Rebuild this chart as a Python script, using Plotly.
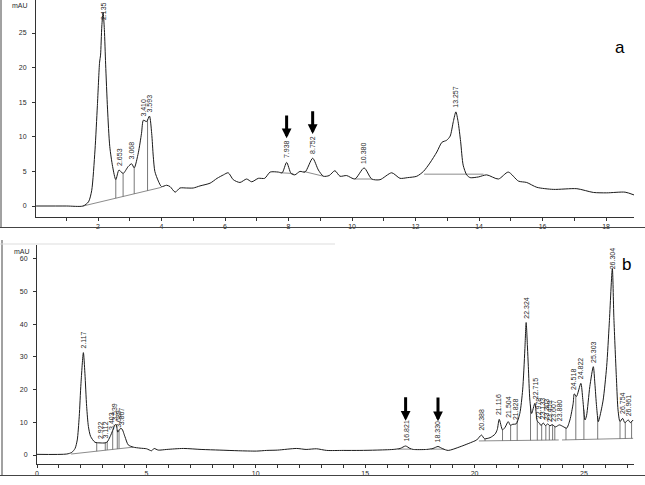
import numpy as np
import plotly.graph_objects as go

# ---------------- Panel a data ----------------
a_time = [0.05, 1.0, 1.53, 1.70, 1.80, 1.905, 1.98, 2.05, 2.08, 2.12, 2.16, 2.20, 2.24, 2.30, 2.37,
          2.46, 2.56, 2.66, 2.79, 2.95, 3.06, 3.14, 3.27, 3.37, 3.43, 3.53, 3.62, 3.69, 3.74, 3.79,
          3.90, 4.00, 4.16, 4.27, 4.43, 4.58, 4.79, 5.0, 5.21, 5.53, 5.75, 5.95, 6.10, 6.26, 6.47,
          6.68, 6.84, 7.05, 7.25, 7.42, 7.68, 7.80, 7.94, 8.08, 8.20, 8.36, 8.52, 8.76, 8.94, 9.10,
          9.28, 9.46, 9.62, 9.83, 10.09, 10.38, 10.62, 10.88, 11.25, 11.51, 11.75, 12.04, 12.25,
          12.45, 12.67, 12.83, 12.98, 13.09, 13.19, 13.27, 13.34, 13.42, 13.50, 13.61, 13.72, 13.98,
          14.24, 14.61, 14.92, 15.24, 15.50, 15.82, 16.34, 17.08, 17.60, 18.02, 18.60, 18.88]
a_mau = [0, 0, 0, 0.6, 2.2, 8.1, 14.5, 20.8, 21.8, 26.0, 28.0, 25.5, 20.5, 14.0, 8.6,
         5.7, 3.8, 5.2, 4.7, 5.7, 6.1, 5.5, 7.7, 10.5, 12.4, 12.2, 13.0, 10.5, 7.2, 5.0,
         3.6, 2.8, 3.0, 2.8, 2.0, 2.6, 2.6, 2.6, 2.9, 3.3, 4.0, 4.5, 4.8, 3.8, 3.4,
         3.9, 3.5, 4.0, 4.0, 4.9, 4.9, 4.8, 6.3, 4.7, 4.5, 5.0, 4.9, 6.9, 5.2, 4.3,
         4.4, 5.1, 4.3, 4.4, 3.9, 5.5, 3.9, 3.8, 4.8, 4.0, 4.1, 4.3, 5.0,
         6.2, 7.8, 9.2, 9.5, 10.1, 12.2, 13.6, 12.2, 9.3, 5.9, 4.5, 4.1, 4.2,
         4.5, 3.9, 4.9, 3.6, 3.4, 2.7, 2.4, 2.5, 1.96, 1.9, 2.0, 1.6]
a_peak_labels = ["2.135", "2.653", "3.068", "3.410", "3.593", "7.938", "8.752", "10.380", "13.257"]
a_peak_times = [2.16, 2.66, 3.06, 3.43, 3.62, 7.94, 8.76, 10.38, 13.27]
a_drop_times = [2.56, 2.79, 3.14, 3.56]
a_base_start_t = [1.53, 7.75, 8.47, 10.09, 12.27]
a_base_start_v = [0.0, 4.8, 5.0, 3.9, 4.6]
a_base_end_t = [4.0, 8.15, 9.10, 10.62, 14.14]
a_base_end_v = [2.7, 4.7, 4.3, 3.9, 4.6]
a_arrow_times = [7.94, 8.76]
a_xtick_labels = ["2", "4", "6", "8", "10", "12", "14", "16", "18"]
a_ytick_labels = ["0", "5", "10", "15", "20", "25"]

# ---------------- Panel b data ----------------
b_time = [0.0, 1.36, 1.59, 1.74, 1.84, 1.93, 2.01, 2.12, 2.19, 2.27, 2.35, 2.45, 2.65, 2.88, 3.11,
          3.21, 3.34, 3.46, 3.56, 3.62, 3.69, 3.79, 3.88, 4.02, 4.17, 4.40, 4.71, 5.01, 5.24, 5.35,
          5.54, 5.93, 6.69, 7.5, 8.36, 9.2, 10.04, 10.5, 11.0, 11.87, 12.3, 12.78, 13.24, 14.0,
          14.76, 15.5, 16.28, 16.6, 16.85, 17.05, 17.2, 17.81, 18.1, 18.33, 18.55, 18.8, 19.33,
          19.94, 20.1, 20.32, 20.45, 20.71, 20.94, 21.04, 21.13, 21.28, 21.40, 21.54, 21.64, 21.75,
          21.90, 22.07, 22.20, 22.30, 22.36, 22.42, 22.46, 22.53, 22.61, 22.76, 22.87, 22.96, 23.04,
          23.14, 23.24, 23.35, 23.45, 23.55, 23.70, 23.88, 24.05, 24.21, 24.36, 24.51, 24.56, 24.66,
          24.86, 24.95, 25.05, 25.12, 25.27, 25.43, 25.50, 25.58, 25.66, 25.73, 25.88, 26.04, 26.16,
          26.30, 26.37, 26.49, 26.56, 26.65, 26.77, 26.87, 27.03, 27.12, 27.25]
b_mau = [0.2, 0.3, 0.8, 2.0, 4.6, 11.7, 21.9, 31.3, 25.0, 14.8, 8.7, 5.7, 3.9, 3.7, 3.7,
         4.0, 5.6, 7.5, 9.2, 9.3, 7.0, 8.0, 8.0, 5.6, 3.1, 2.4, 2.1, 1.9, 1.3, 2.0,
         1.5, 1.7, 2.0, 1.7, 1.5, 1.3, 1.2, 1.4, 1.5, 2.0, 1.7, 1.9, 1.4, 1.4,
         1.4, 1.5, 1.7, 2.0, 2.75, 2.0, 1.7, 1.7, 2.0, 2.6, 1.9, 1.4, 2.5,
         4.1, 4.6, 6.1, 5.0, 5.3, 6.4, 7.8, 10.9, 7.7, 8.5, 10.2, 9.1, 9.4,
         9.5, 12.7, 19.9, 32.1, 40.5, 33.0, 27.0, 16.8, 12.7, 15.8, 10.3, 9.8, 9.0,
         9.8, 9.0, 9.5, 8.9, 9.3, 8.6, 9.2, 8.7, 8.2, 10.7, 15.8, 18.7, 17.9,
         21.9, 17.0, 10.7, 12.0, 20.9, 27.0, 22.0, 14.8, 10.2, 11.8, 16.8, 27.0, 40.3,
         57.0, 42.0, 22.9, 13.8, 10.2, 11.2, 9.9, 10.7, 9.9, 10.7]
b_peak_labels = ["2.117", "2.922", "3.112", "3.403", "3.539", "3.689", "3.867", "16.821", "18.330",
                 "20.388", "21.116", "21.504", "21.828", "22.324", "22.715", "22.978", "23.133",
                 "23.303", "23.459", "23.607", "23.880", "24.518", "24.822", "25.303", "26.304",
                 "26.754", "26.961"]
b_peak_times = [2.12, 2.93, 3.11, 3.40, 3.56, 3.69, 3.86, 16.85, 18.33,
                20.32, 21.13, 21.54, 21.90, 22.36, 22.76, 22.96, 23.14,
                23.30, 23.45, 23.60, 23.87, 24.56, 24.86, 25.43, 26.30,
                26.77, 27.03]
b_drop_times = [2.73, 3.12, 3.21, 3.46, 3.67, 3.75,
                20.48, 21.28, 21.65, 21.95, 22.56, 22.87, 23.07, 23.26, 23.42, 23.57, 23.67,
                24.18, 24.63, 25.0, 25.63, 26.65, 26.89, 27.18]
b_base_start_t = [1.56, 16.5, 18.0, 20.2, 24.0]
b_base_start_v = [0.3, 1.8, 1.8, 4.3, 4.6]
b_base_end_t = [4.4, 17.1, 18.6, 23.85, 27.25]
b_base_end_v = [2.4, 1.8, 1.8, 4.6, 5.1]
b_arrow_times = [16.85, 18.33]
b_xtick_labels = ["0", "5", "10", "15", "20", "25"]
b_ytick_labels = ["0", "10", "20", "30", "40", "50", "60"]

LINE = "#1a1a1a"
BASE = "#8c8c8c"
TXT = "#2a2a2a"
FONT = "Liberation Sans, Arial, sans-serif"

A_YRANGE = [-1.59, 29.77]
B_YRANGE = [-2.75, 64.2]


def baseline_at(t, s_t, s_v, e_t, e_v):
    for t0, v0, t1, v1 in zip(s_t, s_v, e_t, e_v):
        if t0 <= t <= t1:
            return v0 + (v1 - v0) * (t - t0) / (t1 - t0)
    return None


fig = go.Figure()

panels = [
    dict(time=a_time, mau=a_mau, labels=a_peak_labels, ptimes=a_peak_times, drops=a_drop_times,
         bst=a_base_start_t, bsv=a_base_start_v, bet=a_base_end_t, bev=a_base_end_v,
         arrows=a_arrow_times, xa="x", ya="y", yr=A_YRANGE, px_per_unit=217 / (A_YRANGE[1] - A_YRANGE[0]),
         arrow_gap=3.5),
    dict(time=b_time, mau=b_mau, labels=b_peak_labels, ptimes=b_peak_times, drops=b_drop_times,
         bst=b_base_start_t, bsv=b_base_start_v, bet=b_base_end_t, bev=b_base_end_v,
         arrows=b_arrow_times, xa="x2", ya="y2", yr=B_YRANGE, px_per_unit=219 / (B_YRANGE[1] - B_YRANGE[0]),
         arrow_gap=7.7),
]

annotations = []
for p in panels:
    # baselines
    bx, by = [], []
    for t0, v0, t1, v1 in zip(p["bst"], p["bsv"], p["bet"], p["bev"]):
        bx += [t0, t1, None]
        by += [v0, v1, None]
    fig.add_trace(go.Scatter(x=bx, y=by, mode="lines", xaxis=p["xa"], yaxis=p["ya"],
                             line=dict(color=BASE, width=1), hoverinfo="skip", showlegend=False))
    # drop lines
    dx, dy = [], []
    for t in p["drops"]:
        b = baseline_at(t, p["bst"], p["bsv"], p["bet"], p["bev"])
        c = float(np.interp(t, p["time"], p["mau"]))
        dx += [t, t, None]
        dy += [b, c, None]
    fig.add_trace(go.Scatter(x=dx, y=dy, mode="lines", xaxis=p["xa"], yaxis=p["ya"],
                             line=dict(color="#555555", width=0.8), hoverinfo="skip", showlegend=False))
    # signal
    fig.add_trace(go.Scatter(x=p["time"], y=p["mau"], mode="lines", xaxis=p["xa"], yaxis=p["ya"],
                             line=dict(color=LINE, width=1, shape="spline", smoothing=0.7),
                             showlegend=False))
    # peak labels
    for lab, t in zip(p["labels"], p["ptimes"]):
        v = float(np.interp(t, p["time"], p["mau"]))
        room_px = (p["yr"][1] - v) * p["px_per_unit"]
        need_px = 3.6 * len(lab) + 2
        if room_px < need_px:
            annotations.append(dict(x=t, y=p["yr"][1], xref=p["xa"], yref=p["ya"], text=lab,
                                    textangle=-90, showarrow=False, xanchor="center", yanchor="top",
                                    font=dict(size=7, color=TXT, family=FONT)))
        else:
            annotations.append(dict(x=t, y=v, xref=p["xa"], yref=p["ya"], text=lab, textangle=-90,
                                    showarrow=False, xanchor="center", yanchor="bottom", yshift=2,
                                    font=dict(size=7, color=TXT, family=FONT)))
    # arrows
    for t in p["arrows"]:
        v = float(np.interp(t, p["time"], p["mau"]))
        g = p["arrow_gap"]
        annotations.append(dict(x=t, y=v + g, ax=t, ay=v + 2 * g,
                                xref=p["xa"], yref=p["ya"], axref=p["xa"], ayref=p["ya"],
                                text="", showarrow=True, arrowhead=2, arrowsize=0.65,
                                arrowwidth=3, arrowcolor="black"))

annotations += [
    dict(x=620 / 645, y=1 - 48 / 485, xref="paper", yref="paper", text="a", showarrow=False,
         xanchor="center", yanchor="middle", font=dict(size=17, color="black", family=FONT)),
    dict(x=626 / 645, y=1 - 264 / 485, xref="paper", yref="paper", text="b", showarrow=False,
         xanchor="center", yanchor="middle", font=dict(size=17, color="black", family=FONT)),
    dict(x=20 / 645, y=1.0, xref="paper", yref="paper", text="mAU", showarrow=False,
         xanchor="center", yanchor="top", font=dict(size=7, color=TXT, family=FONT)),
    dict(x=22 / 645, y=1 - 251 / 485, xref="paper", yref="paper", text="mAU", showarrow=False,
         xanchor="center", yanchor="middle", font=dict(size=7, color=TXT, family=FONT)),
]

shapes = [
    dict(type="line", xref="paper", yref="paper", x0=1 / 645, x1=1 / 645, y0=1, y1=1 - 228 / 485,
         line=dict(color="#444", width=1)),
    dict(type="line", xref="paper", yref="paper", x0=0, x1=1, y0=1 - 227.5 / 485, y1=1 - 227.5 / 485,
         line=dict(color="#444", width=1)),
    dict(type="line", xref="paper", yref="paper", x0=2 / 645, x1=2 / 645, y0=1 - 240 / 485, y1=1 - 476 / 485,
         line=dict(color="#444", width=1)),
    dict(type="line", xref="paper", yref="paper", x0=0, x1=1, y0=1 - 475.5 / 485, y1=1 - 475.5 / 485,
         line=dict(color="#444", width=1)),
    dict(type="line", xref="paper", yref="paper", x0=0, x1=335 / 645, y0=1 - 244 / 485, y1=1 - 244 / 485,
         line=dict(color="#dddddd", width=1)),
]

axis_common = dict(showgrid=False, zeroline=False, showline=True, linecolor="#333", linewidth=1,
                   ticks="outside", ticklen=3, tickwidth=1, tickcolor="#333", automargin=False,
                   tickfont=dict(size=7, color=TXT, family=FONT))

a_xvals = list(range(1, 19))
b_xvals = list(range(0, 28))

fig.update_layout(
    width=645, height=485, margin=dict(l=0, r=0, t=0, b=0, pad=0, autoexpand=False),
    paper_bgcolor="white", plot_bgcolor="white", showlegend=False,
    xaxis=dict(domain=[36 / 645, 634 / 645], range=[0.047, 18.88], anchor="y",
               tickmode="array", tickvals=a_xvals,
               ticktext=[s if s in a_xtick_labels else "" for s in map(str, a_xvals)],
               **axis_common),
    yaxis=dict(domain=[1 - 217 / 485, 1.0], range=A_YRANGE, anchor="x",
               tickmode="array", tickvals=[float(s) for s in a_ytick_labels], ticktext=a_ytick_labels,
               ticklabelstandoff=4, **axis_common),
    xaxis2=dict(domain=[37 / 645, 634 / 645], range=[0, 27.29], anchor="y2",
                tickmode="array", tickvals=b_xvals,
                ticktext=[s if s in b_xtick_labels else "" for s in map(str, b_xvals)],
                **axis_common),
    yaxis2=dict(domain=[1 - 464 / 485, 1 - 245 / 485], range=B_YRANGE, anchor="x2",
                tickmode="array", tickvals=[float(s) for s in b_ytick_labels], ticktext=b_ytick_labels,
                ticklabelstandoff=4, **axis_common),
    annotations=annotations, shapes=shapes,
)

fig.write_html("out.html", config={"displayModeBar": False},
               post_script="document.body.style.margin='0';document.body.style.overflow='hidden';")
